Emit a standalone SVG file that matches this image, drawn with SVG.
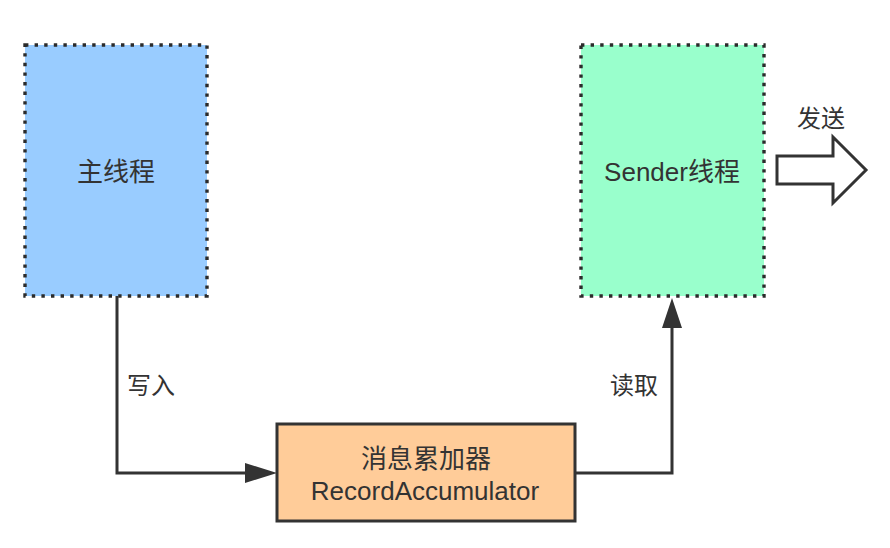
<svg xmlns="http://www.w3.org/2000/svg" width="890" height="548" viewBox="0 0 890 548">
<style>
text{font-family:"Liberation Sans","Noto Sans CJK SC",sans-serif;fill:#333;text-anchor:middle;dominant-baseline:central}
.node{font-size:26px}
.lbl{font-size:24px}
.dot{stroke:#2b2b2b;stroke-width:3.4;stroke-dasharray:3.4 6.2}
.conn{fill:none;stroke:#333;stroke-width:3}
</style>
<rect width="890" height="548" fill="#fff"/>
<g id="main-thread">
<rect x="25" y="45" width="182" height="251" fill="#99CCFF" class="dot"/>
<text x="116" y="172" class="node">主线程</text>
</g>
<g id="sender-thread">
<rect x="581" y="45" width="183" height="251" fill="#99FFCC" class="dot"/>
<text x="672" y="172" class="node">Sender线程</text>
</g>
<g id="accumulator">
<rect x="277" y="424" width="298" height="97" fill="#FFCC99" stroke="#333" stroke-width="3"/>
<text x="426" y="459" class="node">消息累加器</text>
<text x="425" y="491" class="node">RecordAccumulator</text>
</g>
<g id="send-arrow">
<path d="M777,156 L833,156 L833,137 L866,170 L833,203 L833,184 L777,184 Z" fill="#fff" stroke="#333" stroke-width="3" stroke-linejoin="miter"/>
<text x="821" y="118" class="lbl">发送</text>
</g>
<g id="connectors">
<path d="M117,296 V473 H245" class="conn"/>
<path d="M245,463 L277,473 L245,483 Z" fill="#333"/>
<path d="M575,473 H672 V328" class="conn"/>
<path d="M662,328 L672,298 L682,328 Z" fill="#333"/>
<text x="151" y="385" class="lbl">写入</text>
<text x="634" y="385" class="lbl">读取</text>
</g>
</svg>
